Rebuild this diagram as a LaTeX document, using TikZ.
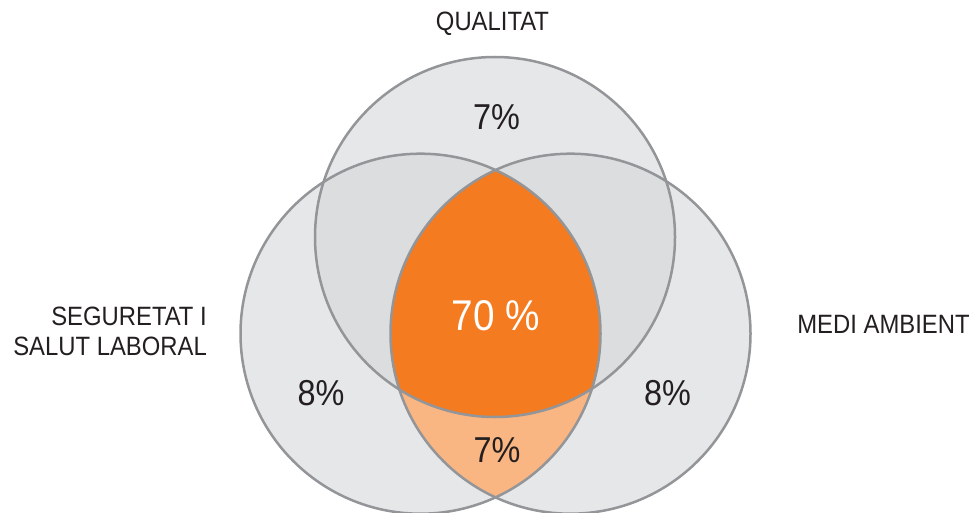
\documentclass[tikz,border=0pt]{standalone}
\usepackage{fontspec}
\setmainfont{Liberation Sans}[FakeStretch=0.9]
\definecolor{ringgrey}{HTML}{E6E7E9}
\definecolor{overgrey}{HTML}{DCDDDF}
\definecolor{edgegrey}{HTML}{939598}
\definecolor{deeporange}{HTML}{F47B20}
\definecolor{paleorange}{HTML}{F9B682}
\definecolor{inkgrey}{HTML}{231F20}
\begin{document}
\begin{tikzpicture}
    [
      x=1pt, y=-1pt,
      setlabel/.style={text=inkgrey, font=\fontsize{26.5}{30}\selectfont, inner sep=0pt},
      share/.style={text=inkgrey, font=\fontsize{36}{40}\selectfont, inner sep=0pt},
    ]
    %
    \useasboundingbox (0, 0) rectangle (976, 513);
    \coordinate (qual) at (495, 237);
    \coordinate (segu) at (420.5, 333.7);
    \coordinate (medi) at (570.5, 333.7);

    % plain circles
    \foreach \c in {qual, segu, medi} {
      \fill [ringgrey] (\c) circle (180pt);
    }

    % pairwise overlaps
    \begin{scope}
      \clip (segu) circle (180pt);
      \fill [overgrey] (qual) circle (180pt);
    \end{scope}
    \begin{scope}
      \clip (medi) circle (180pt);
      \fill [overgrey] (qual) circle (180pt);
    \end{scope}
    \begin{scope}
      \clip (segu) circle (180pt);
      \fill [paleorange] (medi) circle (180pt);
    \end{scope}

    % centre
    \begin{scope}
      \clip (segu) circle (180pt);
      \clip (medi) circle (180pt);
      \fill [deeporange] (qual) circle (180pt);
    \end{scope}

    % outlines
    \foreach \c in {qual, segu, medi} {
      \draw [edgegrey, line width=2.5pt] (\c) circle (180pt);
    }

    % set labels
    \node [setlabel] (qualname) at (492.5, 24) {QUALITAT};
    \node [setlabel] (mediname) at (883.5, 324.5) {MEDI AMBIENT};
    \node [setlabel, anchor=east, align=right] (seguname) at (207, 331)
      {SEGURETAT I\\SALUT LABORAL};

    % shares
    \node [share] (qualpct) at (496.5, 117) {7\%};
    \node [share] (segupct) at (321, 393.5) {8\%};
    \node [share] (medipct) at (667.5, 393.5) {8\%};
    \node [share] (lowpct) at (497, 450) {7\%};
    \node [share, text=white, font=\fontsize{43}{48}\selectfont] (allpct) at (496, 315.5) {70 \%};
  \end{tikzpicture}
\end{document}
